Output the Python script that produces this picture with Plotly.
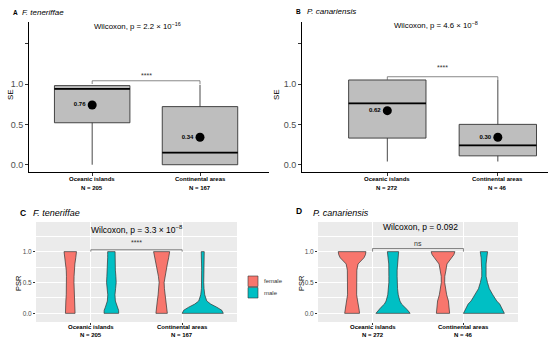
import plotly.graph_objects as go

W, H = 550, 340
FONT = "Liberation Sans"

# ---------------- data ----------------
categories = ["Oceanic islands", "Continental areas"]
n_ft = [205, 167]
n_pc = [272, 46]

# SE box statistics, F. teneriffae
se_ft_lower = [0.0, 0.0]
se_ft_q1 = [0.52, 0.0]
se_ft_median = [0.94, 0.15]
se_ft_q3 = [0.98, 0.72]
se_ft_upper = [0.98, 0.99]
se_ft_mean = [0.74, 0.34]
se_ft_mean_label = ["0.76", "0.34"]

# SE box statistics, P. canariensis
se_pc_lower = [0.04, 0.04]
se_pc_q1 = [0.33, 0.11]
se_pc_median = [0.76, 0.24]
se_pc_q3 = [1.05, 0.50]
se_pc_upper = [1.05, 1.05]
se_pc_mean = [0.67, 0.34]
se_pc_mean_label = ["0.62", "0.30"]

# PSR violin density profiles (relative widths) at PSR levels
psr_levels = [0, 0.05, 0.1, 0.15, 0.2, 0.3, 0.4, 0.5, 0.6, 0.7, 0.8, 0.9, 0.95, 1.0]
ft_female_oc = [4.8, 4.8, 4.6, 4.5, 4.4, 4.0, 3.8, 3.7, 3.8, 4.0, 4.6, 5.5, 6.0, 6.2]
ft_male_oc = [7.3, 7.2, 6.0, 5.0, 4.0, 3.6, 4.2, 4.8, 4.5, 4.0, 3.8, 3.7, 3.7, 3.7]
ft_female_ca = [5.7, 5.5, 5.2, 4.8, 4.3, 3.5, 2.8, 2.5, 3.2, 4.5, 5.7, 7.0, 7.7, 8.0]
ft_male_ca = [20.5, 19.0, 14.0, 8.0, 4.0, 2.0, 1.3, 1.0, 1.0, 1.1, 1.2, 1.3, 1.4, 1.5]

pc_female_oc = [7.5, 7.2, 6.8, 6.3, 5.6, 4.6, 4.5, 4.5, 4.6, 4.8, 6.0, 12.0, 13.5, 14.0]
pc_male_oc = [17.3, 15.0, 12.0, 8.7, 7.0, 5.3, 4.6, 4.2, 4.2, 4.2, 4.3, 5.0, 5.4, 5.7]
pc_female_ca = [6.7, 6.5, 6.2, 5.8, 5.5, 3.7, 2.5, 1.7, 1.8, 3.0, 4.0, 8.7, 11.0, 12.0]
pc_male_ca = [20.7, 19.0, 17.5, 16.0, 13.0, 9.0, 5.5, 3.6, 2.2, 2.2, 2.2, 2.8, 3.3, 3.7]

sexes = ["female", "male"]
sex_colors = {"female": "#F8766D", "male": "#00BFC4"}

p_text = ["Wilcoxon, p = 2.2 × 10<sup>−16</sup>", "Wilcoxon, p = 4.6 × 10<sup>−8</sup>",
          "Wilcoxon, p = 3.3 × 10<sup>−8</sup>", "Wilcoxon, p = 0.092"]
sig_text = ["****", "****", "****", "ns"]
bracket_y = [(1.0, 1.04), (1.05, 1.09), (1.0, 1.03), (1.0, 1.05)]
sig_y = [1.10, 1.20, 1.145, 1.13]

# ---------------- helpers ----------------
def px(x):
    return x / W

def py(y):
    return 1 - y / H

fig = go.Figure()
BOXW = 0.70


def add_box(xa, ya, lower, q1, med, q3, upper, mean, mean_lab):
    xs = list(range(len(categories)))
    fig.add_trace(go.Box(
        x=xs, q1=q1, median=med, q3=q3, lowerfence=lower, upperfence=upper,
        width=BOXW, whiskerwidth=0, fillcolor="#BEBEBE",
        line=dict(color="#333333", width=0.9), boxpoints=False,
        xaxis=xa, yaxis=ya, showlegend=False, hoverinfo="skip"))
    for i, m in enumerate(med):
        fig.add_trace(go.Scatter(
            x=[xs[i] - BOXW / 2, xs[i] + BOXW / 2], y=[m, m], mode="lines",
            line=dict(color="black", width=1.8), xaxis=xa, yaxis=ya,
            showlegend=False, hoverinfo="skip"))
    fig.add_trace(go.Scatter(
        x=xs, y=mean, mode="markers+text",
        marker=dict(color="black", size=9),
        text=["<b>%s</b>" % t for t in mean_lab], textposition="middle left",
        textfont=dict(family=FONT, size=6, color="black"),
        xaxis=xa, yaxis=ya, showlegend=False, hoverinfo="skip"))


def add_violins(xa, ya, profiles):
    allmax = max(max(v) for pair in profiles for v in pair)
    for ci, pair in enumerate(profiles):
        for si, dens in enumerate(pair):
            center = ci + (-0.225 if si == 0 else 0.225)
            half = [d / allmax * 0.225 for d in dens]
            xs = [center - h for h in half] + [center + h for h in half[::-1]] + [center - half[0]]
            ys = list(psr_levels) + list(psr_levels[::-1]) + [psr_levels[0]]
            fig.add_trace(go.Scatter(
                x=xs, y=ys, mode="lines", fill="toself",
                fillcolor=sex_colors[sexes[si]],
                line=dict(color="#333333", width=0.7),
                xaxis=xa, yaxis=ya, showlegend=False, hoverinfo="skip"))


def add_bracket(xa, ya, k):
    b0, b1 = bracket_y[k]
    fig.add_trace(go.Scatter(
        x=[0, 0, 1, 1], y=[b0, b1, b1, b0], mode="lines",
        line=dict(color="#555555", width=0.7),
        xaxis=xa, yaxis=ya, showlegend=False, hoverinfo="skip"))
    fig.add_annotation(x=0.5, y=sig_y[k], xref=xa, yref=ya, text=sig_text[k],
                       showarrow=False, font=dict(family=FONT, size=7, color="#333333"))


def add_cat_labels(xa, ns, y1, y2):
    for i, (c, n) in enumerate(zip(categories, ns)):
        for txt, yy in [(c, y1), ("N = %d" % n, y2)]:
            fig.add_annotation(x=i, y=py(yy), xref=xa, yref="paper", text="<b>%s</b>" % txt,
                               showarrow=False, xanchor="center", yanchor="middle",
                               font=dict(family=FONT, size=6, color="black"))


# ---------------- panels ----------------
add_box("x", "y", se_ft_lower, se_ft_q1, se_ft_median, se_ft_q3, se_ft_upper, se_ft_mean, se_ft_mean_label)
add_box("x2", "y2", se_pc_lower, se_pc_q1, se_pc_median, se_pc_q3, se_pc_upper, se_pc_mean, se_pc_mean_label)
add_violins("x3", "y3", [(ft_female_oc, ft_male_oc), (ft_female_ca, ft_male_ca)])
add_violins("x4", "y4", [(pc_female_oc, pc_male_oc), (pc_female_ca, pc_male_ca)])
add_bracket("x", "y", 0)
add_bracket("x2", "y2", 1)
add_bracket("x3", "y3", 2)
add_bracket("x4", "y4", 3)
add_cat_labels("x", n_ft, 179, 188)
add_cat_labels("x2", n_pc, 179, 188)
add_cat_labels("x3", n_ft, 327, 334.5)
add_cat_labels("x4", n_pc, 327, 334.5)

classic_y = dict(tickvals=[0, 0.5, 1.0], ticktext=["0.0", "0.5", "1.0"],
                 ticks="outside", ticklen=3, tickcolor="#333333", tickwidth=0.8,
                 minor=dict(tickvals=[1.5], ticks="outside", ticklen=3, tickcolor="#333333",
                            tickwidth=0.8, showgrid=False),
                 showline=True, linecolor="black", linewidth=0.8, showgrid=False, zeroline=False,
                 tickfont=dict(family=FONT, size=9, color="#4D4D4D"), range=[-0.09, 1.768])
classic_x = dict(tickvals=[0, 1], ticks="outside", ticklen=3, tickcolor="#333333", tickwidth=0.8,
                 showline=True, linecolor="black", linewidth=0.8, showgrid=False, zeroline=False,
                 showticklabels=False)
gray_y = dict(tickvals=[0, 0.5, 1.0], ticktext=["0.0", "0.5", "1.0"], range=[-0.14, 1.48],
              ticks="outside", ticklen=2, tickcolor="#333333", tickwidth=0.7,
              showline=False, showgrid=True, gridcolor="white", gridwidth=1, zeroline=False,
              minor=dict(tickvals=[0.25, 0.75, 1.25], showgrid=True, gridcolor="white", gridwidth=0.5, ticks=""),
              tickfont=dict(family=FONT, size=6.5, color="#4D4D4D"))
gray_x = dict(tickvals=[0, 1], range=[-0.6, 1.6], ticks="outside", ticklen=2, tickcolor="#333333",
              tickwidth=0.7, showline=False, showgrid=True, gridcolor="white", gridwidth=1, zeroline=False,
              showticklabels=False)

fig.update_layout(
    width=W, height=H, margin=dict(l=0, r=0, t=0, b=0),
    paper_bgcolor="white", plot_bgcolor="rgba(0,0,0,0)", showlegend=False,
    xaxis=dict(classic_x, domain=[px(29), px(269)], range=[-0.586, 1.640], anchor="y"),
    yaxis=dict(classic_y, domain=[py(172), py(22)], anchor="x"),
    xaxis2=dict(classic_x, domain=[px(302), px(548)], range=[-0.772, 1.454], anchor="y2"),
    yaxis2=dict(classic_y, domain=[py(172), py(22)], anchor="x2"),
    xaxis3=dict(gray_x, domain=[px(36), px(237)], anchor="y3"),
    yaxis3=dict(gray_y, domain=[py(322), py(222)], anchor="x3"),
    xaxis4=dict(gray_x, domain=[px(318), px(518)], anchor="y4"),
    yaxis4=dict(gray_y, domain=[py(322), py(222)], anchor="x4"),
)

# gray panel backgrounds for C and D
for xa, ya in [("x3", "y3"), ("x4", "y4")]:
    fig.add_shape(type="rect", xref=xa + " domain", yref=ya + " domain", x0=0, x1=1, y0=0, y1=1,
                  fillcolor="#EBEBEB", line=dict(width=0), layer="below")

# legend for C (manual)
for sex, (y0, y1) in zip(sexes, [(276, 286.5), (287.5, 298)]):
    fig.add_shape(type="rect", xref="paper", yref="paper", x0=px(248), x1=px(258), y0=py(y1), y1=py(y0),
                  fillcolor=sex_colors[sex], line=dict(color="#333333", width=0.6))
    fig.add_annotation(x=px(262), y=py((y0 + y1) / 2), xref="paper", yref="paper", text=sex,
                       xanchor="left", yanchor="middle", showarrow=False,
                       font=dict(family=FONT, size=6, color="#333333"))

# panel labels and titles
labels = [("A", 15, 13, 6.5), ("B", 299, 12, 6.5), ("C", 23, 213, 8.5), ("D", 299, 211, 8.5)]
for t, x, y, s in labels:
    fig.add_annotation(x=px(x), y=py(y), xref="paper", yref="paper", text="<b>%s</b>" % t,
                       showarrow=False, xanchor="center", yanchor="middle",
                       font=dict(family=FONT, size=s, color="black"))
species = [("F. teneriffae", 20, 13, 8), ("P. canariensis", 305, 12, 8),
           ("F. teneriffae", 31, 213, 9), ("P. canariensis", 311, 213, 9)]
for t, x, y, s in species:
    fig.add_annotation(x=px(x), y=py(y), xref="paper", yref="paper", text="<i>%s</i>" % t,
                       showarrow=False, xanchor="left", yanchor="middle",
                       font=dict(family=FONT, size=s, color="black"))
ptext_pos = [(137.5, 26, 7.8), (436.5, 25, 7.8), (137, 229, 8.5), (420, 227, 8.5)]
for t, (x, y, s) in zip(p_text, ptext_pos):
    fig.add_annotation(x=px(x), y=py(y), xref="paper", yref="paper", text=t,
                       showarrow=False, xanchor="center", yanchor="middle",
                       font=dict(family=FONT, size=s, color="black"))
ytitles = [("SE", 10, 95, 8), ("SE", 276, 95, 8), ("PSR", 18, 283, 7.5), ("PSR", 301, 283, 7.5)]
for t, x, y, s in ytitles:
    fig.add_annotation(x=px(x), y=py(y), xref="paper", yref="paper", text=t, textangle=-90,
                       showarrow=False, xanchor="center", yanchor="middle",
                       font=dict(family=FONT, size=s, color="black"))

fig.write_html("out.html", config={"displayModeBar": False},
               post_script="document.body.style.margin='0';document.body.style.overflow='hidden';")
